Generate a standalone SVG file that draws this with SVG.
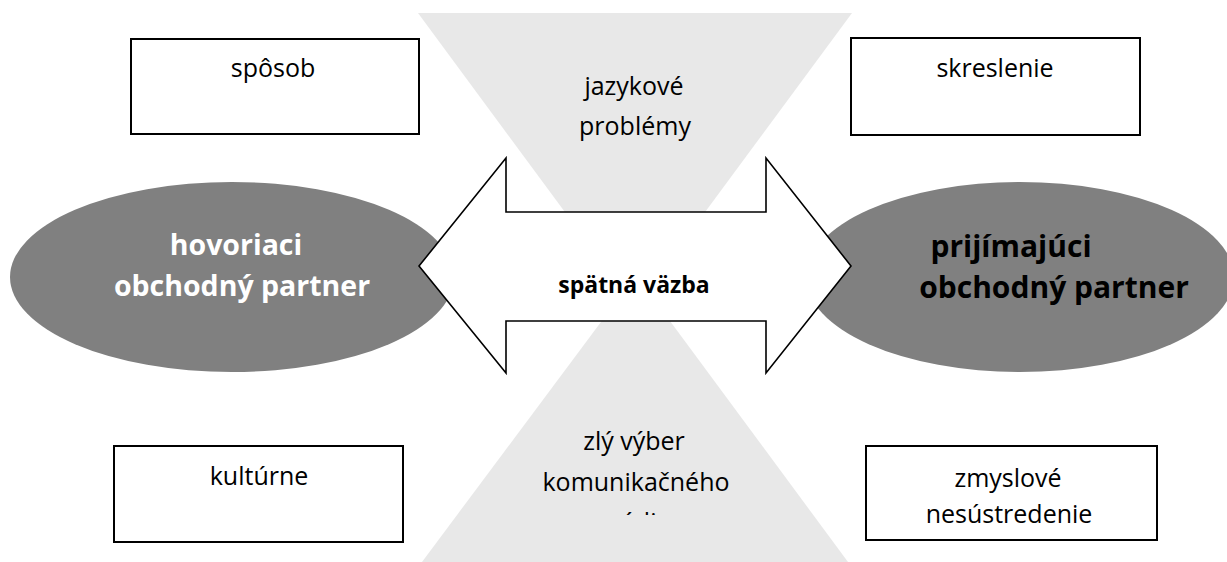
<svg xmlns="http://www.w3.org/2000/svg" width="1227" height="562" viewBox="0 0 1227 562">
  <defs>
    <style>
      .tri { fill: #e8e8e8; }
      .box { fill: #ffffff; stroke: #000000; stroke-width: 2; }
      .ell { fill: #808080; }
      .arrow { fill: #ffffff; stroke: #000000; stroke-width: 1.6; stroke-linejoin: miter; }
      .t { font-family: "Open Sans", "DejaVu Sans", sans-serif; font-size: 25px; fill: #000000; text-anchor: middle; }
      .big { font-family: "Open Sans", "DejaVu Sans", sans-serif; font-weight: bold; text-anchor: middle; }
    </style>
    <clipPath id="clipMedia">
      <rect x="560" y="500" width="140" height="15"/>
    </clipPath>
  </defs>
  <rect width="1227" height="562" fill="#ffffff"/>

  <g id="tri-top">
    <polygon class="tri" points="418,13 852,13 635,307"/>
    <text class="t" x="634" y="95">jazykové</text>
    <text class="t" x="635" y="135">problémy</text>
  </g>

  <g id="tri-bottom">
    <polygon class="tri" points="636,275 848,562 422,562"/>
    <text class="t" x="634" y="450">zlý výber</text>
    <text class="t" x="636" y="491">komunikačného</text>
    <text class="t" x="634" y="531" clip-path="url(#clipMedia)">média</text>
  </g>

  <g id="box-sposob">
    <rect class="box" x="131" y="39" width="288" height="95"/>
    <text class="t" x="273" y="77">spôsob</text>
  </g>

  <g id="box-skreslenie">
    <rect class="box" x="851" y="38" width="289" height="97"/>
    <text class="t" x="995" y="77">skreslenie</text>
  </g>

  <g id="box-kulturne">
    <rect class="box" x="114" y="446" width="289" height="96"/>
    <text class="t" x="259" y="485">kultúrne</text>
  </g>

  <g id="box-zmyslove">
    <rect class="box" x="866" y="446" width="291" height="94"/>
    <text class="t" x="1008" y="487">zmyslové</text>
    <text class="t" x="1009" y="523">nesústredenie</text>
  </g>

  <g id="node-hovoriaci">
    <ellipse class="ell" cx="232" cy="277" rx="222" ry="95"/>
    <text class="big" x="236" y="255" font-size="28.5" fill="#ffffff">hovoriaci</text>
    <text class="big" x="242" y="296" font-size="28.5" fill="#ffffff">obchodný partner</text>
  </g>

  <g id="node-prijimajuci">
    <ellipse class="ell" cx="1020" cy="277" rx="214" ry="95"/>
    <text class="big" x="1011" y="257" font-size="30" fill="#000000">prijímajúci</text>
    <text class="big" x="1054" y="298" font-size="30" fill="#000000">obchodný partner</text>
  </g>

  <g id="connectors">
    <path class="arrow" d="M419,266 L506,158 L506,212 L766,212 L766,158 L851,266 L766,373 L766,321 L506,321 L506,373 Z"/>
    <text class="big" x="634" y="293" font-size="23" fill="#000000">spätná väzba</text>
  </g>
</svg>
